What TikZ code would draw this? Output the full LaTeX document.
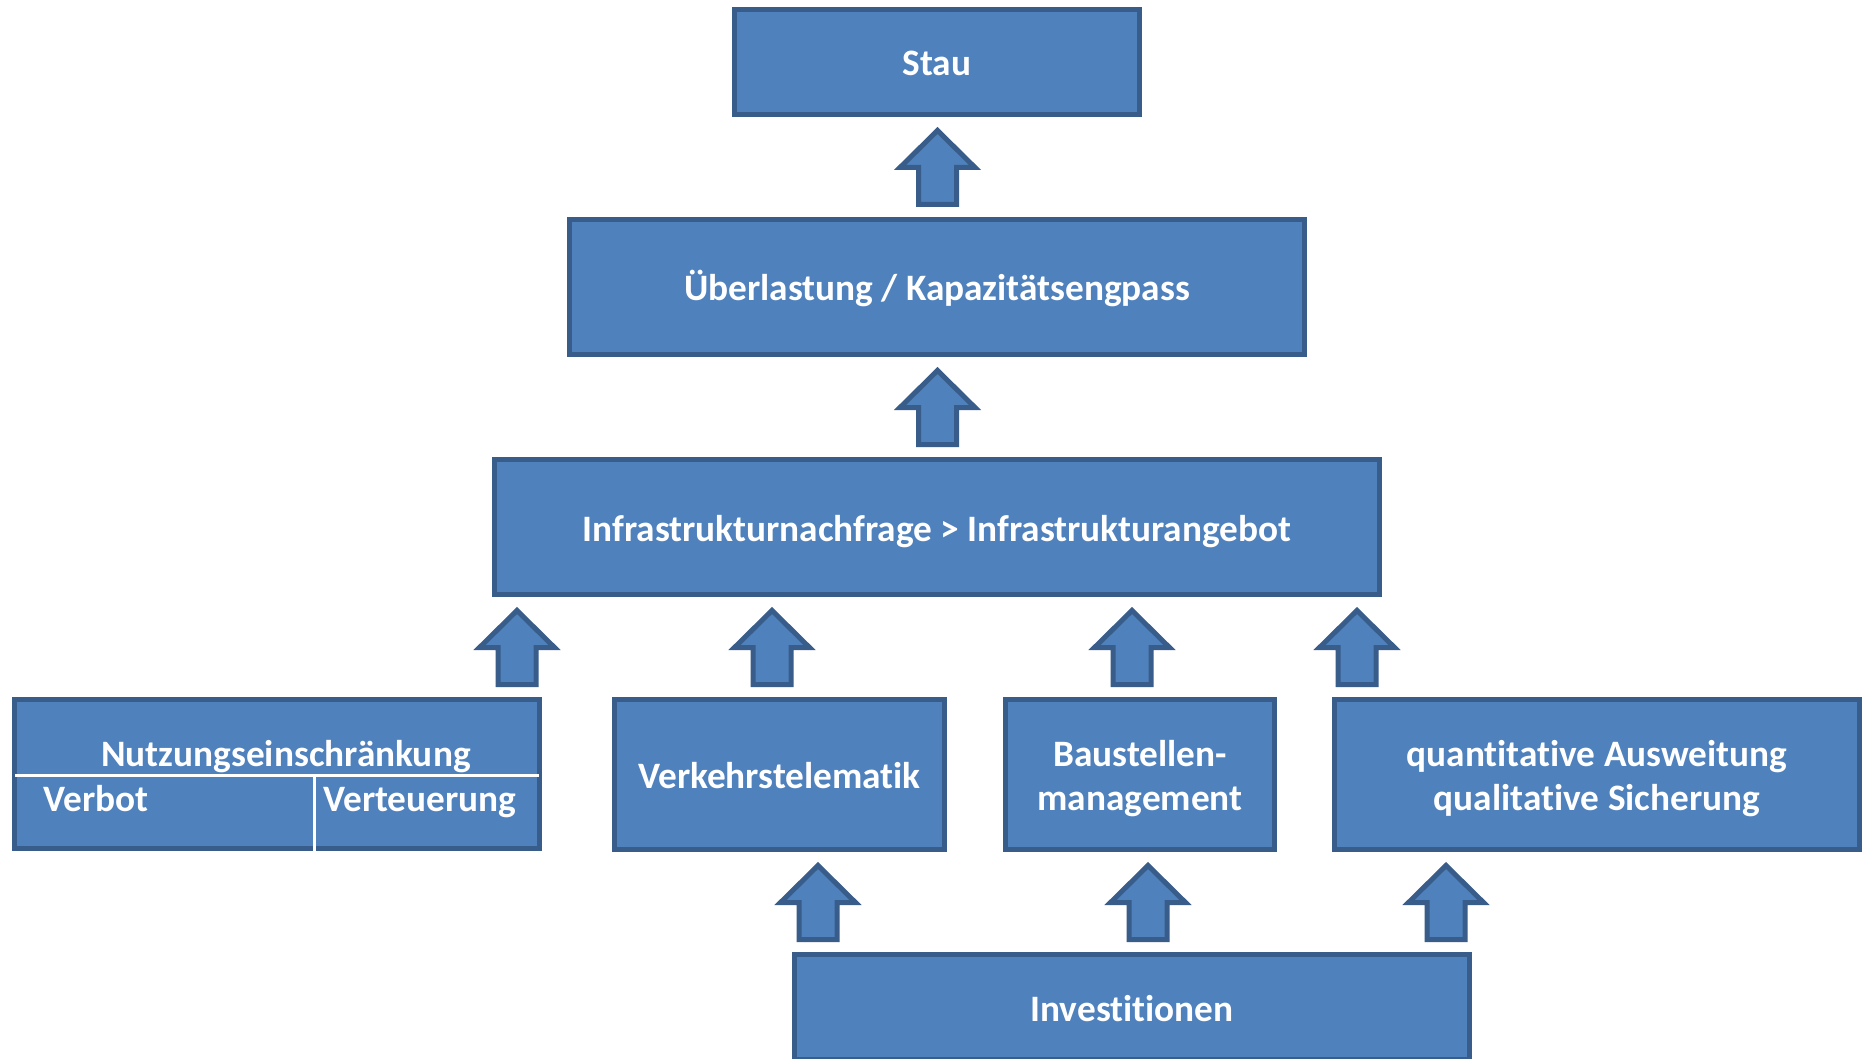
\documentclass[tikz,border=0pt]{standalone}
\usepackage{fontspec}
\setmainfont{Carlito}[Ligatures=NoCommon]
\definecolor{boxfill}{HTML}{4F81BD}
\definecolor{boxline}{HTML}{385D8A}
\tikzset{
  txt/.style={font=\fontsize{37.3}{44}\selectfont\bfseries, text=white},
  box/.style={draw=boxline, fill=boxfill, line width=5pt, inner sep=0pt,
    txt, align=center, text height=28pt, text depth=0pt},
  boxtwo/.style={box, text height=72pt, text depth=0pt},
  lbl/.style={txt, inner sep=0pt},
  divider/.style={draw=white, line width=3pt},
  uparrow/.pic={
    \draw[draw=boxline, fill=boxfill, line width=5pt, line join=miter]
      (0,3.5) -- (37.5,40.5) -- (19,40.5) -- (19,77.5) -- (-19,77.5)
      -- (-19,40.5) -- (-37.5,40.5) -- cycle;
  }
}
\begin{document}
\begin{tikzpicture}[x=1pt,y=-1pt]
\fill[white] (0,0) rectangle (1864,1059);
\useasboundingbox (0,0) rectangle (1864,1059);

% boxes
\node[box, minimum width=405pt, minimum height=105pt] (stau) at (937,62) {};
\node[lbl, anchor=base] (staut) at (937,75.5) {Stau};
\node[box, minimum width=735pt, minimum height=135pt] (ueber) at (937,287) {Überlastung / Kapazitätsengpass};
\node[box, minimum width=885pt, minimum height=135pt] (infra) at (937,527) {Infrastrukturnachfrage > Infrastrukturangebot};
\node[box, minimum width=525pt, minimum height=149pt] (nutz) at (277,774) {};
\node[box, minimum width=330pt, minimum height=150pt] (verk) at (779.5,774.5) {Verkehrstelematik};
\node[boxtwo, minimum width=269pt, minimum height=150pt] (baust) at (1140,774.5) {Baustellen-\\management};
\node[boxtwo, minimum width=525pt, minimum height=150pt] (quant) at (1597,774.5) {quantitative Ausweitung\\qualitative Sicherung};
\node[box, minimum width=675pt, minimum height=105pt] (inv) at (1132,1007) {Investitionen};

% Nutzungseinschränkung subdivision
\coordinate (hl) at (15,775);
\coordinate (hr) at (539,775);
\coordinate (vt) at (314,775);
\coordinate (vb) at (314,851);
\draw[divider] (hl) -- (hr);
\draw[divider] (vt) -- (vb);
\node[lbl, anchor=base] (nutzt) at (286,766.5) {Nutzungseinschränkung};
\node[lbl, anchor=base west] (verbot) at (43,811) {Verbot};
\node[lbl, anchor=base west] (verteu) at (323,811) {Verteuerung};

% block arrows
\pic at (937.5,127) {uparrow};
\pic at (937.5,367) {uparrow};
\pic at (517,607) {uparrow};
\pic at (772,607) {uparrow};
\pic at (1132,607) {uparrow};
\pic at (1357,607) {uparrow};
\pic at (818,862) {uparrow};
\pic at (1148,862) {uparrow};
\pic at (1446,862) {uparrow};
\end{tikzpicture}
\end{document}
